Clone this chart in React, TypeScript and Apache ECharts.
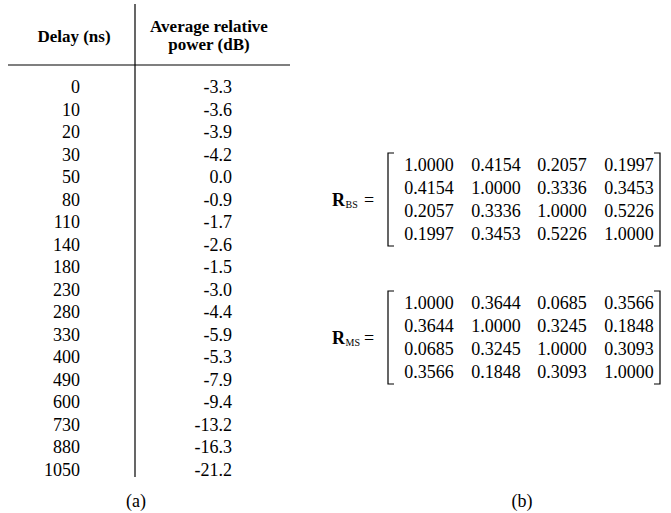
import React, { useEffect, useRef } from "react";
import * as echarts from "echarts";

const delays: string[] = ["0", "10", "20", "30", "50", "80", "110", "140", "180", "230", "280", "330", "400", "490", "600", "730", "880", "1050"];
const powers: string[] = ["-3.3", "-3.6", "-3.9", "-4.2", "0.0", "-0.9", "-1.7", "-2.6", "-1.5", "-3.0", "-4.4", "-5.9", "-5.3", "-7.9", "-9.4", "-13.2", "-16.3", "-21.2"];
const headerDelay: string = "Delay (ns)";
const headerPower: string[] = ["Average relative", "power (dB)"];

const rBS: number[][] = [
  [1.0, 0.4154, 0.2057, 0.1997],
  [0.4154, 1.0, 0.3336, 0.3453],
  [0.2057, 0.3336, 1.0, 0.5226],
  [0.1997, 0.3453, 0.5226, 1.0],
];
const rMS: number[][] = [
  [1.0, 0.3644, 0.0685, 0.3566],
  [0.3644, 1.0, 0.3245, 0.1848],
  [0.0685, 0.3245, 1.0, 0.3093],
  [0.3566, 0.1848, 0.3093, 1.0],
];
const matrixNames: string[] = ["BS", "MS"];
const captions: string[] = ["(a)", "(b)"];

const FONT = "Liberation Serif";

export default function App() {
  const ref = useRef<HTMLDivElement>(null);
  useEffect(() => {
    document.body.style.margin = "0";
    const chart = echarts.init(ref.current!, null, { renderer: "svg" });
    const els: any[] = [];
    const txt = (text: string, x: number, y: number, align: string, size: number, bold = false) => ({
      type: "text",
      x,
      y,
      style: {
        text,
        fill: "#000",
        fontFamily: FONT,
        fontSize: size,
        fontWeight: bold ? "bold" : "normal",
        align,
        verticalAlign: "middle",
      },
    });
    const ln = (x1: number, y1: number, x2: number, y2: number) => ({
      type: "line",
      shape: { x1, y1, x2, y2 },
      style: { stroke: "#000", lineWidth: 1.2 },
    });

    // table (a)
    const vx = 135;
    els.push(ln(vx, 4, vx, 477));
    els.push(ln(8, 65, 290, 65));
    els.push(txt(headerDelay, 74, 36, "center", 17, true));
    els.push(txt(headerPower[0], 209, 26, "center", 17, true));
    els.push(txt(headerPower[1], 209, 44, "center", 17, true));
    const row0 = 87;
    const rowH = 22.5;
    delays.forEach((d, i) => {
      els.push(txt(d, 80, row0 + i * rowH, "right", 18));
      els.push(txt(powers[i], 232, row0 + i * rowH, "right", 18));
    });
    els.push(txt(captions[0], 136, 501, "center", 18));

    // matrices (b)
    const colX = [429, 496, 562, 629];
    const mRowH = 23;
    const tops = [165, 303];
    [rBS, rMS].forEach((m, k) => {
      const top = tops[k];
      m.forEach((row, r) => {
        row.forEach((v, c) => {
          els.push(txt(v.toFixed(4), colX[c], top + r * mRowH, "center", 18));
        });
      });
      const bTop = top - 12;
      const bBot = top + 3 * mRowH + 12;
      const lx = 388;
      const rx = 660;
      els.push({
        type: "polyline",
        shape: { points: [[lx + 6, bTop], [lx, bTop], [lx, bBot], [lx + 6, bBot]] },
        style: { stroke: "#000", lineWidth: 1.2, fill: null },
      });
      els.push({
        type: "polyline",
        shape: { points: [[rx - 6, bTop], [rx, bTop], [rx, bBot], [rx - 6, bBot]] },
        style: { stroke: "#000", lineWidth: 1.2, fill: null },
      });
      const cy = top + 1.5 * mRowH;
      els.push(txt("R", 332, cy, "left", 18, true));
      els.push(txt(matrixNames[k], 345.5, cy + 5, "left", 10));
      els.push(txt("=", 364, cy, "left", 18));
    });
    els.push(txt(captions[1], 522, 501, "center", 18));

    chart.setOption({
      animation: false,
      backgroundColor: "#fff",
      graphic: { elements: els },
    });
    return () => chart.dispose();
  }, []);
  return <div ref={ref} style={{ width: 671, height: 513 }} />;
}
